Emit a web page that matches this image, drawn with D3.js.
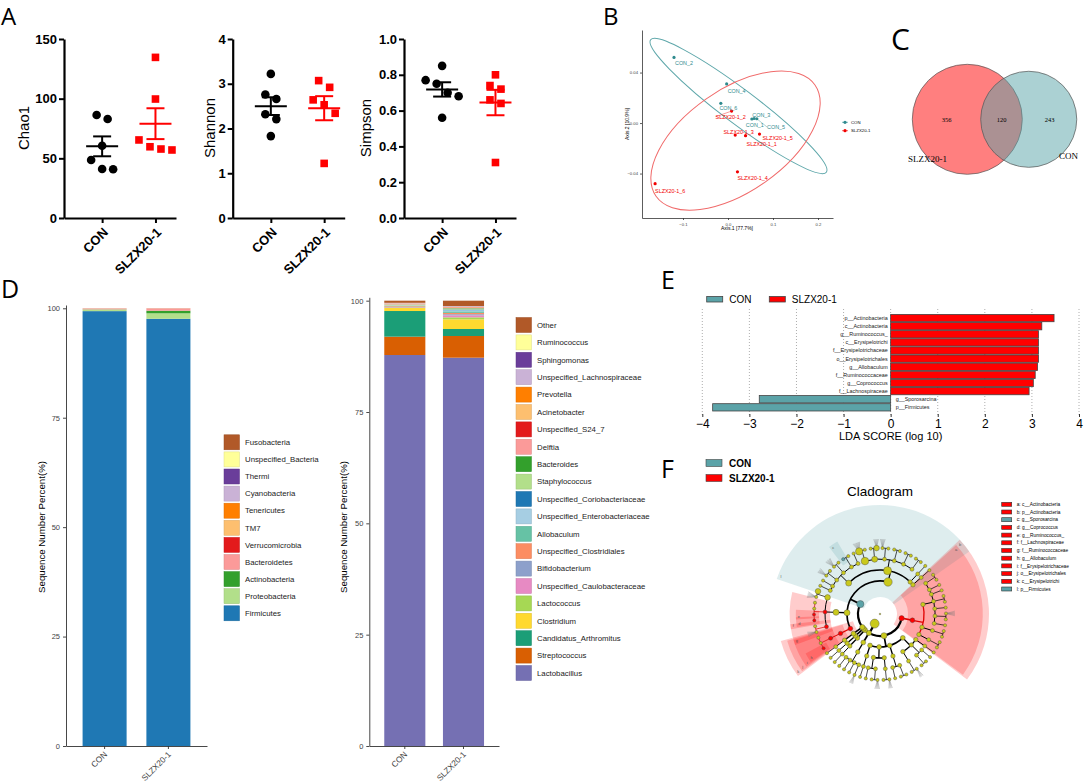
<!DOCTYPE html>
<html>
<head>
<meta charset="utf-8">
<script src="https://cdn.jsdelivr.net/npm/d3@7"></script>
<style>
body { margin: 0; background: #fff; }
svg { display: block; font-family: "Liberation Sans", Arial, Helvetica, sans-serif; }
</style>
</head>
<body>
<svg id="fig" width="1084" height="784"></svg>
<script>
// ---------------- data ----------------
var groups = ["CON", "SLZX20-1"];

// A: alpha diversity, six mice per group
var chao1Con = [86.3, 83.0, 60.6, 48.6, 41.0, 40.8];
var chao1Slzx = [134.6, 99.7, 65.4, 59.7, 57.8, 57.0];
var shannonCon = [3.22, 2.76, 2.66, 2.32, 2.21, 1.83];
var shannonSlzx = [3.07, 2.92, 2.64, 2.53, 2.34, 1.22];
var simpsonCon = [0.85, 0.77, 0.75, 0.70, 0.68, 0.56];
var simpsonSlzx = [0.80, 0.74, 0.72, 0.66, 0.64, 0.31];

// B: PCoA
var pcoaNames = ["CON_1", "CON_2", "CON_3", "CON_4", "CON_5", "CON_6",
                 "SLZX20-1_1", "SLZX20-1_2", "SLZX20-1_3", "SLZX20-1_4", "SLZX20-1_5", "SLZX20-1_6"];
var pcoaAxis1 = [0.053, -0.120, 0.058, -0.003, 0.064, -0.016, 0.039, 0.008, 0.016, 0.021, 0.070, -0.162];
var pcoaAxis2 = [0.0032, 0.052, 0.0036, 0.031, 0.0034, 0.0156, -0.010, 0.0095, -0.0095, -0.0386, -0.0087, -0.048];
var pcoaGroup = ["CON", "CON", "CON", "CON", "CON", "CON",
                 "SLZX20-1", "SLZX20-1", "SLZX20-1", "SLZX20-1", "SLZX20-1", "SLZX20-1"];

// C: Venn (only SLZX20-1, shared, only CON)
var vennCounts = [356, 120, 243];

// D: relative abundance, stacked from the bottom
var phylumNames = ["Firmicutes", "Proteobacteria", "Actinobacteria", "Bacteroidetes", "Verrucomicrobia",
                   "TM7", "Tenericutes", "Cyanobacteria", " Thermi", "Unspecified_Bacteria", "Fusobacteria"];
var phylumCon = [99.35, 0.35, 0.05, 0.15, 0.02, 0.02, 0.02, 0.02, 0.01, 0.005, 0.005];
var phylumSlzx = [97.6, 1.25, 0.6, 0.45, 0.03, 0.02, 0.02, 0.01, 0.01, 0.005, 0.005];
var phylumColors = ["#1f78b4", "#b2df8a", "#33a02c", "#fb9a99", "#e31a1c", "#fdbf6f",
                    "#ff7f00", "#cab2d6", "#6a3d9a", "#ffff99", "#b15928"];

var genusNames = ["Lactobacillus", "Streptococcus", "Candidatus_Arthromitus", "Clostridium", "Lactococcus",
                  "Unspecified_Caulobacteraceae", "Bifidobacterium", "Unspecified_Clostridiales", "Allobaculum",
                  "Unspecified_Enterobacteriaceae", "Unspecified_Coriobacteriaceae", "Staphylococcus", "Bacteroides",
                  "Delftia", "Unspecified_S24_7", "Acinetobacter", "Prevotella", "Unspecified_Lachnospiraceae",
                  "Sphingomonas", "Ruminococcus", "Other"];
var genusCon = [87.8, 4.12, 5.76, 0.67, 0.1, 0.1, 0.05, 0.15, 0.05, 0.1, 0.02, 0.2, 0.03, 0.15, 0.02, 0.05, 0.02, 0.1, 0.01, 0.02, 0.48];
var genusSlzx = [87.2, 4.87, 1.57, 2.17, 0.45, 0.45, 0.25, 0.3, 0.35, 0.25, 0.15, 0.2, 0.1, 0.15, 0.05, 0.05, 0.05, 0.15, 0.02, 0.02, 1.2];
var genusColors = ["#7570b3", "#d95f02", "#1b9e77", "#ffd92f", "#a6d854", "#e78ac3", "#8da0cb", "#fc8d62",
                   "#66c2a5", "#a6cee3", "#1f78b4", "#b2df8a", "#33a02c", "#fb9a99", "#e31a1c", "#fdbf6f",
                   "#ff7f00", "#cab2d6", "#6a3d9a", "#ffff99", "#b15928"];
var pctTicks = [0, 25, 50, 75, 100];

// E: LEfSe LDA scores
var ldaTaxa = ["p__Actinobacteria", "c__Actinobacteria", "g__Ruminococcus_", "c__Erysipelotrichi",
               "f__Erysipelotrichaceae", "o__Erysipelotrichales", "g__Allobaculum", "f__Ruminococcaceae",
               "g__Coprococcus", "f__Lachnospiraceae", "g__Sporosarcina", "p__Firmicutes"];
var ldaScores = [3.47, 3.21, 3.14, 3.14, 3.14, 3.14, 3.12, 3.07, 3.03, 2.94, -2.79, -3.78];
var ldaTicks = [-4, -3, -2, -1, 0, 1, 2, 3, 4];

// F: cladogram taxonomy (k, p, c, o, f, g)
var cladeTree = ["root", [
 ["k__Bacteria", [
  ["p__Actinobacteria", [
   ["c__Actinobacteria", [
    ["o__Actinomycetales", [
     ["f__Micrococcaceae", ["g__Arthrobacter", "g__Rothia"]],
     ["f__Corynebacteriaceae", ["g__Corynebacterium"]],
     ["f__Nocardioidaceae", ["g__Nocardioides"]],
     ["f__Propionibacteriaceae", ["g__Propionibacterium", "g__Tessaracoccus"]],
     ["f__Streptomycetaceae", ["g__Streptomyces"]],
     ["f__Microbacteriaceae", ["g__Microbacterium", "g__Leucobacter"]],
     ["f__Dietziaceae", ["g__Dietzia"]]]],
    ["o__Bifidobacteriales", [["f__Bifidobacteriaceae", ["g__Bifidobacterium", "g__Gardnerella"]]]],
    ["o__Coriobacteriales", [["f__Coriobacteriaceae", ["g__Adlercreutzia", "g__Collinsella"]]]]]]]],
  ["p__Proteobacteria", [
   ["c__Alphaproteobacteria", [
    ["o__Caulobacterales", [["f__Caulobacteraceae", ["g__Caulobacter"]]]],
    ["o__Rhizobiales", [["f__Rhizobiaceae", ["g__Agrobacterium"]], ["f__Methylobacteriaceae", ["g__Methylobacterium", "g__Microvirga"]]]],
    ["o__Sphingomonadales", [["f__Sphingomonadaceae", ["g__Sphingomonas", "g__Sphingobium"]]]]]],
   ["c__Betaproteobacteria", [["o__Burkholderiales", [["f__Comamonadaceae", ["g__Delftia", "g__Comamonas"]], ["f__Alcaligenaceae", ["g__Sutterella"]]]]]],
   ["c__Gammaproteobacteria", [
    ["o__Enterobacteriales", [["f__Enterobacteriaceae", ["g__Escherichia", "g__Klebsiella"]]]],
    ["o__Pseudomonadales", [["f__Moraxellaceae", ["g__Acinetobacter", "g__Psychrobacter"]], ["f__Pseudomonadaceae", ["g__Pseudomonas"]]]]]],
   ["c__Deltaproteobacteria", [["o__Desulfovibrionales", [["f__Desulfovibrionaceae", ["g__Desulfovibrio"]]]]]]]],
  ["p__Bacteroidetes", [["c__Bacteroidia", [["o__Bacteroidales", [
     ["f__Bacteroidaceae", ["g__Bacteroides"]], ["f__Prevotellaceae", ["g__Prevotella"]],
     ["f__S24_7", ["g__S24_7"]], ["f__Porphyromonadaceae", ["g__Parabacteroides"]]]]]]]],
  ["p__Cyanobacteria", [["c__Chloroplast", [["o__Streptophyta", [["f__Streptophyta", ["g__Streptophyta"]]]]]]]],
  ["p__Tenericutes", [["c__Mollicutes", [["o__RF39", [["f__RF39", ["g__RF39"]]]]]]]],
  ["p__Fusobacteria", [["c__Fusobacteriia", [["o__Fusobacteriales", [["f__Fusobacteriaceae", ["g__Fusobacterium"]]]]]]]],
  ["p__Firmicutes", [
   ["c__Erysipelotrichi", [["o__Erysipelotrichales", [["f__Erysipelotrichaceae", ["g__Allobaculum", "g__Coprobacillus", "g__Holdemania"]]]]]],
   ["c__Clostridia", [["o__Clostridiales", [
     ["f__Ruminococcaceae", ["g__Oscillospira", "g__Ruminococcus"]],
     ["f__Lachnospiraceae", ["g__Coprococcus", "g__Ruminococcus_", "g__Blautia", "g__Roseburia"]],
     ["f__Clostridiaceae", ["g__Clostridium", "g__Candidatus_Arthromitus"]]]]]],
   ["c__Bacilli", [
    ["o__Bacillales", [
     ["f__Exiguobacteraceae", ["g__Exiguobacterium"]],
     ["f__Paenibacillaceae", ["g__Paenibacillus"]],
     ["f__Bacillaceae", ["g__Bacillus", "g__Anoxybacillus"]],
     ["f__Staphylococcaceae", ["g__Staphylococcus", "g__Jeotgalicoccus"]],
     ["f__Planococcaceae", ["g__Sporosarcina", "g__Planomicrobium"]],
     ["f__Listeriaceae", ["g__Brochothrix"]]]],
    ["o__Lactobacillales", [
     ["f__Lactobacillaceae", ["g__Lactobacillus", "g__Pediococcus"]],
     ["f__Streptococcaceae", ["g__Lactococcus", "g__Streptococcus"]],
     ["f__Enterococcaceae", ["g__Enterococcus", "g__Vagococcus"]],
     ["f__Leuconostocaceae", ["g__Leuconostoc", "g__Weissella"]],
     ["f__Aerococcaceae", ["g__Aerococcus", "g__Facklamia"]],
     ["f__Carnobacteriaceae", ["g__Carnobacterium", "g__Granulicatella"]]]],
    ["o__Gemellales", [["f__Gemellaceae", ["g__Gemella"]]]],
    ["o__Turicibacterales", [["f__Turicibacteraceae", ["g__Turicibacter"]]]]]]]]]]]];

var cladeMarks = ["a", "b", "c", "d", "e", "f", "g", "h", "i", "j", "k", "l"];
var cladeHits = ["c__Actinobacteria", "p__Actinobacteria", "g__Sporosarcina", "g__Coprococcus", "g__Ruminococcus_",
                 "f__Lachnospiraceae", "f__Ruminococcaceae", "g__Allobaculum", "f__Erysipelotrichaceae",
                 "o__Erysipelotrichales", "c__Erysipelotrichi", "p__Firmicutes"];
var cladeHitGroup = ["SLZX20-1", "SLZX20-1", "CON", "SLZX20-1", "SLZX20-1", "SLZX20-1", "SLZX20-1",
                     "SLZX20-1", "SLZX20-1", "SLZX20-1", "SLZX20-1", "CON"];
var cladeBig = {"k__Bacteria": 4.5, "p__Firmicutes": 3.6, "c__Bacilli": 4.2, "o__Lactobacillales": 4,
                "f__Lactobacillaceae": 3.8, "g__Lactobacillus": 3.6, "f__Streptococcaceae": 3, "g__Streptococcus": 2.8,
                "c__Clostridia": 3, "o__Clostridiales": 3, "f__Clostridiaceae": 2.8, "g__Candidatus_Arthromitus": 2.8,
                "p__Proteobacteria": 3, "o__Bacillales": 3};
// number of species tips fanning out of some genera
var cladeFans = {"g__Lactobacillus": 7, "g__Streptococcus": 5, "g__Staphylococcus": 6, "g__Bacillus": 5,
                 "g__Clostridium": 6, "g__Oscillospira": 5, "g__Microbacterium": 5, "g__Acinetobacter": 5,
                 "g__Bacteroides": 4, "g__Escherichia": 4, "g__Enterococcus": 5, "g__Sphingomonas": 4};

// ---------------- drawing ----------------
var svg = d3.select("#fig");
var FONT = "'Liberation Sans', Arial, Helvetica, sans-serif";
var groupColor = {"CON": "#000000", "SLZX20-1": "#ff0000"};

function panelLetter(t, x, y, size) {
	svg.append("text").attr("x", x).attr("y", y)
	   .style("font-family", "'Open Sans', 'DejaVu Sans', sans-serif")
	   .style("font-size", size + "px").text(t);
}
panelLetter("A", 1, 25, 24);
panelLetter("B", 603, 25, 24);
panelLetter("C", 891, 50, 30);
panelLetter("D", 1, 298, 25);
panelLetter("E", 661, 289, 25);
panelLetter("F", 661, 478, 25);

// ---- A: scatter dot plots with mean +/- SEM
var alphaPanels = [
	{label: "Chao1", con: chao1Con, slzx: chao1Slzx, max: 150, ticks: [0, 50, 100, 150], fmt: d3.format("d"), axisX: 64, labelX: 24},
	{label: "Shannon", con: shannonCon, slzx: shannonSlzx, max: 4, ticks: [0, 1, 2, 3, 4], fmt: d3.format("d"), axisX: 232.7, labelX: 210},
	{label: "Simpson", con: simpsonCon, slzx: simpsonSlzx, max: 1, ticks: [0, 0.2, 0.4, 0.6, 0.8, 1.0], fmt: d3.format(".1f"), axisX: 404, labelX: 366}
];

// spread points that sit close together side by side, as Prism does
function spread(vals, y) {
	var order = d3.range(vals.length).sort(function(a, b) { return vals[b] - vals[a]; });
	var off = vals.map(function() { return 0; });
	var grp = [];
	function flush() {
		grp.forEach(function(k, j) { off[k] = (j - (grp.length - 1) / 2) * 11; });
		grp = [];
	}
	order.forEach(function(k) {
		if (grp.length && y(vals[k]) - y(vals[grp[grp.length - 1]]) > 9.5) flush();
		grp.push(k);
	});
	flush();
	return off;
}

alphaPanels.forEach(function(p) {
	var g = svg.append("g");
	var y = d3.scaleLinear().domain([0, p.max]).range([218, 39]);
	var x = d3.scalePoint().domain(groups).range([p.axisX, p.axisX + 112]).padding(0.55).align(0.65);

	var ya = g.append("g").attr("transform", "translate(" + p.axisX + ",0)")
	          .call(d3.axisLeft(y).tickValues(p.ticks).tickFormat(p.fmt).tickSize(5).tickSizeOuter(0));
	var xa = g.append("g").attr("transform", "translate(0,218)")
	          .call(d3.axisBottom(x).tickSize(5).tickSizeOuter(0));
	[ya, xa].forEach(function(a) {
		a.select(".domain").attr("stroke-width", 2.2);
		a.selectAll(".tick line").attr("stroke-width", 2);
		a.selectAll("text").style("font-family", FONT).style("font-size", "13px")
		 .style("font-weight", "bold").attr("fill", "#000");
	});
	ya.selectAll("text").attr("x", -7);
	xa.selectAll("text").attr("x", 0).attr("y", 0).attr("dy", "0.35em")
	  .attr("text-anchor", "end").attr("transform", "translate(3,12) rotate(-45)");

	g.append("text").attr("transform", "translate(" + p.labelX + ",128) rotate(-90)")
	 .attr("text-anchor", "middle").attr("dy", "0.35em")
	 .style("font-size", "15px").text(p.label);

	[["CON", p.con], ["SLZX20-1", p.slzx]].forEach(function(gv) {
		var grp = gv[0], vals = gv[1], col = groupColor[grp];
		var cx = x(grp);
		var off = spread(vals, y);
		if (grp === "CON") {
			g.selectAll(null).data(vals).enter().append("circle")
			 .attr("cx", function(d, i) { return cx + off[i]; })
			 .attr("cy", function(d) { return y(d); })
			 .attr("r", 4.3).attr("fill", col);
		} else {
			g.selectAll(null).data(vals).enter().append("rect")
			 .attr("x", function(d, i) { return cx + off[i] - 3.8; })
			 .attr("y", function(d) { return y(d) - 3.8; })
			 .attr("width", 7.6).attr("height", 7.6).attr("fill", col);
		}
		var m = d3.mean(vals), sem = d3.deviation(vals) / Math.sqrt(vals.length);
		var lg = g.append("g").attr("stroke", col).attr("stroke-width", 2);
		lg.append("line").attr("x1", cx - 16).attr("x2", cx + 16).attr("y1", y(m)).attr("y2", y(m));
		lg.append("line").attr("x1", cx).attr("x2", cx).attr("y1", y(m - sem)).attr("y2", y(m + sem));
		[m - sem, m + sem].forEach(function(v) {
			lg.append("line").attr("x1", cx - 9).attr("x2", cx + 9).attr("y1", y(v)).attr("y2", y(v));
		});
	});
});

// ---- B: PCoA
(function() {
	var g = svg.append("g");
	var x = d3.scaleLinear().domain([-0.1911, 0.2333]).range([642, 833]);
	var y = d3.scaleLinear().domain([-0.0752, 0.0737]).range([218, 30]);
	var col = {"CON": "#2f8a8e", "SLZX20-1": "#f20000"};
	var ellCol = {"CON": "#5ea7aa", "SLZX20-1": "#f06a6a"};

	var xa = g.append("g").attr("transform", "translate(0,218)")
	          .call(d3.axisBottom(x).tickValues([-0.1, 0, 0.1, 0.2]).tickFormat(d3.format(".1f")).tickSize(2).tickSizeOuter(0));
	var ya = g.append("g").attr("transform", "translate(642,0)")
	          .call(d3.axisLeft(y).tickValues([-0.04, 0, 0.04]).tickFormat(d3.format(".2f")).tickSize(2).tickSizeOuter(0));
	[xa, ya].forEach(function(a) {
		a.selectAll(".domain, .tick line").attr("stroke", "#333").attr("stroke-width", 0.8);
		a.selectAll("text").style("font-size", "4.2px").attr("fill", "#444");
	});
	xa.selectAll("text").attr("y", 5);
	ya.selectAll("text").attr("x", -4);
	g.append("text").attr("x", 737).attr("y", 230).attr("text-anchor", "middle")
	 .style("font-size", "5px").text("Axis.1 [77.7%]");
	g.append("text").attr("transform", "translate(629,124) rotate(-90)").attr("text-anchor", "middle")
	 .style("font-size", "5px").text("Axis.2 [10.9%]");

	// confidence ellipses: centre in data units, semi-axes in px
	var ellipses = [
		{grp: "CON", cx: 0.0233, cy: 0.0135, a: 110, b: 17, rot: 37},
		{grp: "SLZX20-1", cx: 0.0167, cy: -0.0139, a: 97, b: 51, rot: -35}
	];
	g.selectAll("ellipse").data(ellipses).enter().append("ellipse")
	 .attr("transform", function(d) { return "translate(" + x(d.cx) + "," + y(d.cy) + ") rotate(" + d.rot + ")"; })
	 .attr("rx", function(d) { return d.a; }).attr("ry", function(d) { return d.b; })
	 .attr("fill", "none").attr("stroke", function(d) { return ellCol[d.grp]; }).attr("stroke-width", 1);

	// label nudges for the repelled sample names
	var nudge = {"CON_1": [-6, 8], "CON_2": [1, 7.7], "CON_3": [-1.8, -1.8], "CON_4": [1, 8.7], "CON_5": [10.3, 10.3],
	             "CON_6": [-1.4, 6.4], "SLZX20-1_1": [1, 10.6], "SLZX20-1_2": [-16, 7.7], "SLZX20-1_3": [-11.7, -1],
	             "SLZX20-1_4": [0, 8], "SLZX20-1_5": [3, 5.7], "SLZX20-1_6": [0, 9]};
	var pts = pcoaNames.map(function(n, i) { return {name: n, x: pcoaAxis1[i], y: pcoaAxis2[i], grp: pcoaGroup[i]}; });
	pts.forEach(function(d) {
		var nd = nudge[d.name];
		if (Math.abs(nd[0]) + Math.abs(nd[1]) > 14) {
			g.append("line").attr("x1", x(d.x)).attr("y1", y(d.y))
			 .attr("x2", x(d.x) + nd[0]).attr("y2", y(d.y) + nd[1] - 2)
			 .attr("stroke", col[d.grp]).attr("stroke-width", 0.4);
		}
	});
	g.selectAll("circle.pt").data(pts).enter().append("circle").attr("class", "pt")
	 .attr("cx", function(d) { return x(d.x); }).attr("cy", function(d) { return y(d.y); })
	 .attr("r", 1.6).attr("fill", function(d) { return col[d.grp]; });
	g.selectAll("text.lab").data(pts).enter().append("text").attr("class", "lab")
	 .attr("x", function(d) { return x(d.x) + nudge[d.name][0]; })
	 .attr("y", function(d) { return y(d.y) + nudge[d.name][1]; })
	 .style("font-size", "5.4px").attr("fill", function(d) { return col[d.grp]; })
	 .text(function(d) { return d.name; });

	// legend
	groups.forEach(function(gr, i) {
		var ly = 122.3 + i * 8.4;
		g.append("line").attr("x1", 842).attr("x2", 848).attr("y1", ly).attr("y2", ly)
		 .attr("stroke", col[gr]).attr("stroke-width", 0.6);
		g.append("circle").attr("cx", 845).attr("cy", ly).attr("r", 1.6).attr("fill", col[gr]);
		g.append("text").attr("x", 851).attr("y", ly).attr("dy", "0.35em")
		 .style("font-size", "4.3px").text(gr);
	});
})();

// ---- C: Venn
(function() {
	var g = svg.append("g");
	var nA = vennCounts[0] + vennCounts[1], nB = vennCounts[2] + vennCounts[1];
	var rScale = d3.scaleSqrt().domain([0, nA]).range([0, 55]);
	var r1 = rScale(nA), r2 = rScale(nB);
	function lens(d) {
		var a1 = Math.acos((d * d + r1 * r1 - r2 * r2) / (2 * d * r1));
		var a2 = Math.acos((d * d + r2 * r2 - r1 * r1) / (2 * d * r2));
		return r1 * r1 * a1 + r2 * r2 * a2 - 0.5 * Math.sqrt((-d + r1 + r2) * (d + r1 - r2) * (d - r1 + r2) * (d + r1 + r2));
	}
	var target = Math.PI * r1 * r1 * vennCounts[1] / nA;
	var lo = Math.abs(r1 - r2) + 0.01, hi = r1 + r2 - 0.01;
	for (var k = 0; k < 60; k++) {
		var mid = (lo + hi) / 2;
		if (lens(mid) > target) lo = mid; else hi = mid;
	}
	var d = (lo + hi) / 2;
	var c1 = 967.3, c2 = c1 + d, cy = 119.3;
	g.append("circle").attr("cx", c1).attr("cy", cy).attr("r", r1)
	 .attr("fill", "#ff0000").attr("fill-opacity", 0.5).attr("stroke", "#555").attr("stroke-width", 0.7);
	g.append("circle").attr("cx", c2).attr("cy", cy).attr("r", r2)
	 .attr("fill", "#57a3a7").attr("fill-opacity", 0.5).attr("stroke", "#555").attr("stroke-width", 0.7);
	var xs = [(c1 - r1 + c2 - r2) / 2, (c2 - r2 + c1 + r1) / 2, (c1 + r1 + c2 + r2) / 2];
	vennCounts.forEach(function(v, i) {
		g.append("text").attr("x", xs[i]).attr("y", cy).attr("dy", "0.35em").attr("text-anchor", "middle")
		 .style("font-family", "'Liberation Serif', 'Times New Roman', serif").style("font-size", "6.5px").text(v);
	});
	g.append("text").attr("x", 908).attr("y", 162).style("font-family", "'Liberation Serif', serif")
	 .style("font-size", "9px").text("SLZX20-1");
	g.append("text").attr("x", 1059).attr("y", 159).style("font-family", "'Liberation Serif', serif")
	 .style("font-size", "9px").text("CON");
})();

// ---- D: stacked bars
function stackedBars(o) {
	var g = svg.append("g");
	var rows = groups.map(function(gr, gi) {
		var row = {group: gr};
		o.names.forEach(function(n, i) { row[n] = o.values[gi][i]; });
		return row;
	});
	var series = d3.stack().keys(o.names)(rows);
	var x = d3.scaleBand().domain(groups).range([o.axisX, o.axisEnd]).paddingInner(o.pin).paddingOuter(o.pout);
	var y = d3.scaleLinear().domain([0, o.top]).range([746, o.y0]);
	var color = d3.scaleOrdinal().domain(o.names).range(o.colors);

	g.selectAll("g.layer").data(series).enter().append("g").attr("class", "layer")
	 .attr("fill", function(s) { return color(s.key); })
	 .selectAll("rect").data(function(s) { return s; }).enter().append("rect")
	 .attr("x", function(d) { return x(d.data.group); })
	 .attr("y", function(d) { return y(d[1]); })
	 .attr("height", function(d) { return y(d[0]) - y(d[1]); })
	 .attr("width", x.bandwidth());

	var ya = g.append("g").attr("transform", "translate(" + o.axisX + ",0)")
	          .call(d3.axisLeft(y).tickValues(pctTicks).tickSize(3).tickSizeOuter(0));
	var xa = g.append("g").attr("transform", "translate(0,746)")
	          .call(d3.axisBottom(x).tickSize(3).tickSizeOuter(0));
	[ya, xa].forEach(function(a) {
		a.selectAll(".domain, .tick line").attr("stroke", "#333").attr("stroke-width", 0.9);
		a.selectAll("text").style("font-size", "7.5px").attr("fill", "#444");
	});
	xa.selectAll("text").attr("x", 0).attr("y", 0).attr("dy", "0.35em").style("font-size", "8.3px")
	  .attr("text-anchor", "end").attr("transform", "translate(1,7) rotate(-45)");
	g.append("text").attr("transform", "translate(" + o.titleX + ",527) rotate(-90)")
	 .attr("text-anchor", "middle").attr("dy", "0.35em").style("font-size", "9.7px")
	 .text("Sequence Number Percent(%)");

	// legend, top entry is the last stacked layer
	var legendNames = o.names.slice().reverse();
	var lg = g.append("g");
	legendNames.forEach(function(n, i) {
		var ly = o.legY + i * o.legStep;
		lg.append("rect").attr("x", o.legX).attr("y", ly - 7.5).attr("width", 15.5).attr("height", 15)
		  .attr("fill", color(n)).attr("stroke", d3.color(color(n)).darker(0.4)).attr("stroke-width", 0.5);
		lg.append("text").attr("x", o.legX + 21).attr("y", ly).attr("dy", "0.35em")
		  .style("font-size", "7.8px").attr("fill", "#222").text(n);
	});
}
stackedBars({names: phylumNames, values: [phylumCon, phylumSlzx], colors: phylumColors,
             axisX: 66, axisEnd: 207, pin: 0.31, pout: 0.26, top: 100.75, y0: 305, titleX: 42,
             legX: 224, legY: 442.3, legStep: 17.1});
stackedBars({names: genusNames, values: [genusCon, genusSlzx], colors: genusColors,
             axisX: 369.3, axisEnd: 499, pin: 0.3, pout: 0.255, top: 100.76, y0: 297.3, titleX: 343.3,
             legX: 516, legY: 325, legStep: 17.4});

// ---- E: LDA bar chart
(function() {
	var g = svg.append("g");
	var x = d3.scaleLinear().domain([-4, 4]).range([702.3, 1079]);
	var y = d3.scaleBand().domain(ldaTaxa).range([313.6, 411.8]).padding(0.1);
	var ecol = {"CON": "#5ba3a8", "SLZX20-1": "#ff0000"};

	g.selectAll("line.grid").data(ldaTicks).enter().append("line").attr("class", "grid")
	 .attr("x1", function(d) { return x(d); }).attr("x2", function(d) { return x(d); })
	 .attr("y1", 309).attr("y2", 416)
	 .attr("stroke", "#999").attr("stroke-width", 0.8).attr("stroke-dasharray", "1,2");

	g.selectAll("rect.bar").data(ldaScores).enter().append("rect").attr("class", "bar")
	 .attr("x", function(d) { return x(Math.min(0, d)); })
	 .attr("y", function(d, i) { return y(ldaTaxa[i]); })
	 .attr("width", function(d) { return Math.abs(x(d) - x(0)); })
	 .attr("height", y.bandwidth())
	 .attr("fill", function(d) { return d > 0 ? ecol["SLZX20-1"] : ecol["CON"]; })
	 .attr("stroke", "#444").attr("stroke-width", 0.8);

	g.selectAll("text.tax").data(ldaScores).enter().append("text").attr("class", "tax")
	 .attr("x", function(d) { return d > 0 ? x(0) - 3 : x(0) + 5; })
	 .attr("y", function(d, i) { return y(ldaTaxa[i]) + y.bandwidth() / 2; })
	 .attr("dy", "0.35em").attr("text-anchor", function(d) { return d > 0 ? "end" : "start"; })
	 .style("font-size", "5.4px").attr("fill", "#222")
	 .text(function(d, i) { return ldaTaxa[i]; });

	var xa = g.append("g").attr("transform", "translate(0,414)")
	          .call(d3.axisBottom(x).tickValues(ldaTicks).tickSize(3).tickSizeOuter(0));
	xa.select(".domain").remove();
	xa.selectAll(".tick line").attr("stroke", "#333");
	xa.selectAll("text").style("font-size", "12px").attr("fill", "#000").attr("y", 5);
	g.append("text").attr("x", x(0)).attr("y", 440).attr("text-anchor", "middle")
	 .style("font-size", "11px").text("LDA SCORE (log 10)");

	[["CON", 706.7], ["SLZX20-1", 769.3]].forEach(function(d) {
		g.append("rect").attr("x", d[1]).attr("y", 296.5).attr("width", 16).attr("height", 5.5)
		 .attr("fill", ecol[d[0]]).attr("stroke", "#444").attr("stroke-width", 0.8);
		g.append("text").attr("x", d[1] + 22.5).attr("y", 299.3).attr("dy", "0.35em")
		 .style("font-size", "10px").text(d[0]);
	});
})();

// ---- F: cladogram
(function() {
	var g = svg.append("g");
	var cx = 880, cy = 614, rot = 51;
	var fcol = {"CON": "#5ba3a8", "SLZX20-1": "#ff0000"};

	function toNode(d) { return typeof d === "string" ? {name: d} : {name: d[0], children: d[1].map(toNode)}; }
	var root = d3.hierarchy(toNode(cladeTree));
	d3.cluster().size([360, 1]).separation(function() { return 1; })(root);
	var ring = d3.scaleLinear().domain([0, 6]).range([0, 66]);
	var step = 360 / root.leaves().length;
	var hit = {};
	cladeHits.forEach(function(n, i) { hit[n] = {mark: cladeMarks[i], grp: cladeHitGroup[i]}; });
	root.each(function(n) { n.theta = n.x + rot; n.r = ring(n.depth); });
	function find(name) { return root.find(function(n) { return n.data.name === name; }); }
	function pt(r, th) { var a = th * Math.PI / 180; return [cx + r * Math.sin(a), cy - r * Math.cos(a)]; }

	// shaded sectors for the discriminant clades, larger clades first
	var arc = d3.arc();
	var sectors = cladeHits.map(function(n) {
		var node = find(n);
		// the Firmicutes sector in the original only covers the Bacilli fan
		var span = n === "p__Firmicutes" ? find("c__Bacilli") : node;
		var lv = span.leaves();
		var pad = (7 - node.depth) * 0.8;
		return {name: n, node: node, a0: d3.min(lv, function(l) { return l.theta; }) - step / 2 - pad,
		        a1: d3.max(lv, function(l) { return l.theta; }) + step / 2 + pad,
		        inner: node.r - 5, outer: 109 - (node.depth - 2) * 6.2, grp: hit[n].grp, mark: hit[n].mark};
	}).sort(function(a, b) { return a.node.depth - b.node.depth; });
	sectors.forEach(function(s) {
		g.append("path").attr("transform", "translate(" + cx + "," + cy + ")")
		 .attr("d", arc({innerRadius: s.inner, outerRadius: s.outer,
		                 startAngle: s.a0 * Math.PI / 180, endAngle: s.a1 * Math.PI / 180}))
		 .attr("fill", fcol[s.grp]).attr("fill-opacity", 0.2);
		var lp = pt(s.outer - 3, s.a0 + 2);
		g.append("text").attr("x", lp[0]).attr("y", lp[1]).attr("dy", "0.35em").attr("text-anchor", "middle")
		 .style("font-size", "4px").attr("fill", "#555").text(s.mark);
	});

	// species tips: thin grey fans beyond the genus ring
	root.leaves().forEach(function(l) {
		var n = cladeFans[l.data.name];
		if (!n) return;
		var p0 = pt(l.r, l.theta);
		d3.range(n).forEach(function(j) {
			var th = l.theta + (j - (n - 1) / 2) * 0.9;
			var p1 = pt(75, th);
			g.append("line").attr("x1", p0[0]).attr("y1", p0[1]).attr("x2", p1[0]).attr("y2", p1[1])
			 .attr("stroke", "#777").attr("stroke-width", 0.35);
		});
	});

	// branches: radial stem from parent, arc joining the children
	var widths = [0, 2.2, 1.7, 1.3, 1.0, 0.7];
	root.each(function(n) {
		if (!n.children || n.depth === 0) return;
		var cr = ring(n.depth + 1);
		var amin = d3.min(n.children, function(k) { return k.theta; });
		var amax = d3.max(n.children, function(k) { return k.theta; });
		var red = hit[n.data.name] && hit[n.data.name].grp === "SLZX20-1";
		var p = d3.path();
		var s0 = pt(n.r, n.theta), s1 = pt(cr, n.theta);
		p.moveTo(s0[0], s0[1]); p.lineTo(s1[0], s1[1]);
		var b0 = pt(cr, amin);
		p.moveTo(b0[0], b0[1]);
		p.arc(cx, cy, cr, (amin - 90) * Math.PI / 180, (amax - 90) * Math.PI / 180);
		g.append("path").attr("d", p.toString()).attr("fill", "none")
		 .attr("stroke", red ? "#e00000" : "#000").attr("stroke-width", widths[n.depth]);
	});

	var sizeByDepth = [0.8, 4.5, 2.6, 2.4, 2.2, 2.0, 1.6];
	var nodes = root.descendants();
	g.selectAll("circle.node").data(nodes).enter().append("circle").attr("class", "node")
	 .attr("cx", function(n) { return pt(n.r, n.theta)[0]; })
	 .attr("cy", function(n) { return pt(n.r, n.theta)[1]; })
	 .attr("r", function(n) { return cladeBig[n.data.name] || sizeByDepth[n.depth]; })
	 .attr("fill", function(n) { return hit[n.data.name] ? fcol[hit[n.data.name].grp] : "#c9c91c"; })
	 .attr("stroke", "#444").attr("stroke-width", 0.4);

	g.append("text").attr("x", 880).attr("y", 491).attr("text-anchor", "middle").attr("dy", "0.35em")
	 .style("font-size", "13.5px").text("Cladogram");

	// group legend
	[["CON", 463], ["SLZX20-1", 478]].forEach(function(d) {
		g.append("rect").attr("x", 706).attr("y", d[1] - 3.5).attr("width", 16).attr("height", 7)
		 .attr("fill", fcol[d[0]]).attr("stroke", "#444").attr("stroke-width", 0.6);
		g.append("text").attr("x", 729).attr("y", d[1]).attr("dy", "0.35em")
		 .style("font-size", "10px").style("font-weight", "bold").text(d[0]);
	});

	// clade legend
	cladeHits.forEach(function(n, i) {
		var ly = 504.3 + i * 7.7;
		g.append("rect").attr("x", 1001.7).attr("y", ly - 2).attr("width", 10).attr("height", 4)
		 .attr("fill", fcol[cladeHitGroup[i]]).attr("stroke", "#333").attr("stroke-width", 0.6);
		g.append("text").attr("x", 1016.7).attr("y", ly).attr("dy", "0.35em")
		 .style("font-size", "4.8px").text(cladeMarks[i] + ": " + n);
	});
})();
</script>
</body>
</html>
